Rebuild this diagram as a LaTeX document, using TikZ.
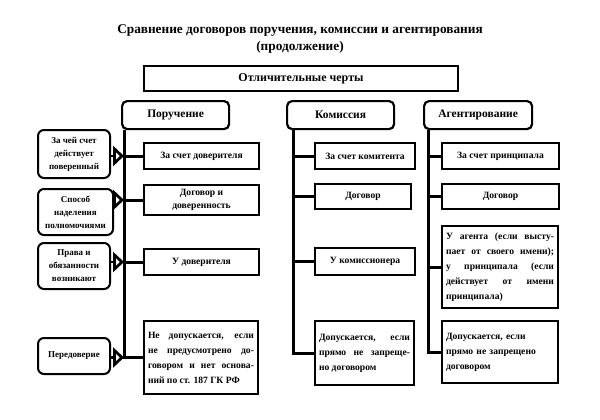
\documentclass[tikz,border=0pt]{standalone}
\usepackage{fontspec}
\setmainfont{Liberation Serif}
\usetikzlibrary{arrows.meta}

\tikzset{
  head/.style={draw, line width=2.2pt, rounded corners=5pt, anchor=north west,
    minimum height=28pt, font=\bfseries\fontsize{11.5}{13}\selectfont},
  lbl/.style={draw, line width=2pt, rounded corners=6pt, anchor=north west,
    align=center, inner sep=1pt, font=\bfseries\fontsize{9}{13}\selectfont},
  item/.style={draw, line width=2pt, anchor=north west, align=center,
    inner xsep=4pt, font=\bfseries\fontsize{9.6}{13}\selectfont},
  para/.style={item, align=justify, font=\bfseries\fontsize{9.6}{15}\selectfont},
  conn/.style={line width=3pt},
  arr/.style={line width=2.8pt, -{Triangle[open,length=11pt,width=20pt]}}
}

\begin{document}
\begin{tikzpicture}[x=1pt,y=-1pt]
\useasboundingbox (0,0) rectangle (600,420);

% title
\node[font=\bfseries\fontsize{13.3}{17}\selectfont, align=center] (title) at (300,39)
  {Сравнение договоров поручения, комиссии и агентирования\\(продолжение)};
\node[draw, line width=2pt, anchor=north west, minimum width=314pt, minimum height=25pt,
  font=\bfseries\fontsize{12}{13}\selectfont] (feat) at (143,65) {Отличительные черты};

% headers
\node[head, minimum width=107pt] (por) at (121,100) {Поручение};
\node[head, minimum width=107pt] (kom) at (286,100) {Комиссия};
\node[head, minimum width=108pt] (agt) at (423,100) {Агентирование};

\coordinate (sp) at ([xshift=3pt]por.south west);
\coordinate (sk) at ([xshift=7pt]kom.south west);
\coordinate (sa) at ([xshift=5pt]agt.south west);

% left labels
\node[lbl, minimum width=72pt, minimum height=48pt] (l1) at (37,129) {За чей счет\\действует\\поверенный};
\node[lbl, minimum width=75pt, minimum height=46pt] (l2) at (37,188) {Способ\\наделения\\полномочиями};
\node[lbl, minimum width=72pt, minimum height=46pt] (l3) at (37,242) {Права и\\обязанности\\возникают};
\node[lbl, minimum width=72pt, minimum height=36pt] (l4) at (37,337) {Передоверие};

% poruchenie
\node[item, minimum width=115pt, minimum height=26pt] (p1) at (143,142) {За счет доверителя};
\node[item, minimum width=115pt, minimum height=30pt] (p2) at (143,184) {Договор и\\доверенность};
\node[item, minimum width=115pt, minimum height=26pt] (p3) at (143,248) {У доверителя};
\node[para, text width=106pt, minimum height=73pt] (p4) at (143,320)
  {Не допускается, если\linebreak не предусмотрено до-\linebreak говором и нет основа-\linebreak ний по ст. 187 ГК РФ};

% komissiya
\node[item, minimum width=100pt, minimum height=26pt] (k1) at (314,142) {За счет комитента};
\node[item, minimum width=96pt, minimum height=25pt] (k2) at (314,183) {Договор};
\node[item, minimum width=100pt, minimum height=27pt] (k3) at (314,247) {У комиссионера};
\node[para, text width=91pt, minimum height=64pt] (k4) at (314,320)
  {Допускается, если\linebreak прямо не запреще-\linebreak но договором\par\vspace*{12pt}};

% agentirovanie
\node[item, minimum width=117pt, minimum height=26pt] (a1) at (441,142) {За счет принципала};
\node[item, minimum width=117pt, minimum height=25pt] (a2) at (441,183) {Договор};
\node[para, text width=108pt, minimum height=82pt] (a3) at (441,225)
  {У агента (если высту-\linebreak пает от своего имени);\linebreak у принципала (если\linebreak действует от имени\linebreak принципала)};
\node[para, align=left, text width=108pt, minimum height=62pt] (a4) at (441,320)
  {Допускается, если\\прямо не запрещено\\договором\par\vspace*{12pt}};

% spines
\draw[conn] (sp) |- (p4.west);
\draw[conn] (sk) |- (k4.west);
\draw[conn] (sa) |- (a4.west);
\foreach \n in {p1,p2,p3}
  \draw[conn] (\n.west -| sp) -- (\n.west);
\foreach \n in {k1,k2,k3}
  \draw[conn] (\n.west -| sk) -- (\n.west);
\foreach \n in {a1,a2,a3}
  \draw[conn] (\n.west -| sa) -- (\n.west);

% arrows from labels
\draw[arr] (l1.east |- p1.west) -- (p1.west -| sp);
\draw[arr] (l2.east |- p2.west) -- (p2.west -| sp);
\draw[arr] (l3.east |- p3.west) -- (p3.west -| sp);
\draw[arr] (l4.east |- p4.west) -- (p4.west -| sp);
\end{tikzpicture}
\end{document}
